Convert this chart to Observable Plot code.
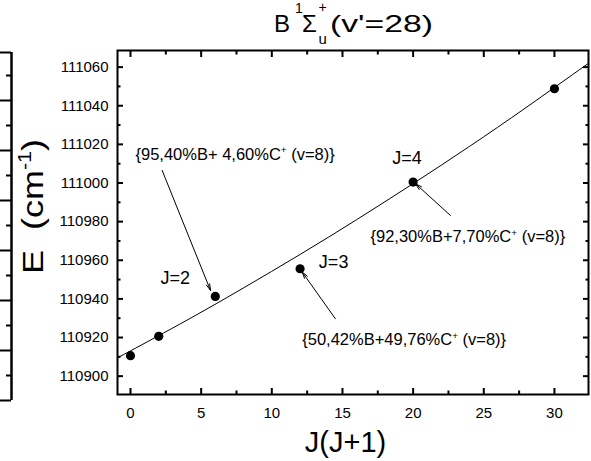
<!DOCTYPE html>
<html><head><meta charset="utf-8">
<script src="https://cdn.jsdelivr.net/npm/d3@7"></script>
<script src="https://cdn.jsdelivr.net/npm/@observablehq/plot@0.6"></script>
<style>
html,body{margin:0;padding:0;background:#fff;}
#wrap{position:relative;width:591px;height:461px;overflow:hidden;font-family:"Liberation Sans",Arial,sans-serif;}
#wrap svg{position:absolute;left:0;top:0;background:transparent;overflow:visible;}
svg text, svg tspan{white-space:pre;}
</style></head><body><div id="wrap"></div>
<script>
// measured points
const pointsX = [0, 2, 6, 12, 20, 30];
const pointsE = [110910.6, 110920.6, 110941.3, 110955.6, 111000.5, 111048.8];
// fitted curve
const fitX = [-0.92, 0, 4, 8, 12, 16, 20, 24, 28, 32.41];
const fitE = [110909.5, 110913.1, 110929.0, 110945.7, 110963.0, 110981.0, 110999.7, 111019.0, 111039.1, 111062.0];
// axes
const xDomain = [-0.92, 32.41];
const yDomain = [110890.5, 111068.6];
const xMajor = [0, 5, 10, 15, 20, 25, 30];
const xMinor = [2.5, 7.5, 12.5, 17.5, 22.5, 27.5];
const yMajor = [110900, 110920, 110940, 110960, 110980, 111000, 111020, 111040, 111060];
const yMinor = [110910, 110930, 110950, 110970, 110990, 111010, 111030, 111050];
// labels
const jTexts = ["J=2", "J=3", "J=4"];
const jX = [2.12, 13.33, 18.52];
const jE = [110947.5, 110956.1, 111010.0];
const noteTexts = ["{95,40%B+ 4,60%C^{+} (v=8)}", "{92,30%B+7,70%C^{+} (v=8)}", "{50,42%B+49,76%C^{+} (v=8)}"];
const noteX = [0.35, 16.98, 12.15];
const noteE = [111012.05, 110969.4, 110915.9];
const arrowFromX = [2.24, 22.64, 14.5];
const arrowFromE = [111006.5, 110983.2, 110929.7];
const arrowToX = [5.66, 20.17, 12.15];
const arrowToE = [110944.4, 110999.6, 110953.9];
const xTitle = "J(J+1)";
const yTitle = "E  (cm^{-1})";
// neighbouring (cropped) panel on the left
const sideDomain = [0, 13.92];
const sideMajor = [2, 4, 6, 8, 10, 12];
const sideMinor = [1, 3, 5, 7, 9, 11, 13];

const points = pointsX.map((x, i) => ({x, e: pointsE[i]}));
const fit = fitX.map((x, i) => ({x, e: fitE[i]}));
const jLabels = jTexts.map((t, i) => ({t, x: jX[i], e: jE[i]}));
const notes = noteTexts.map((t, i) => ({t, x: noteX[i], e: noteE[i]}));
const arrows = arrowFromX.map((x, i) => ({x1: x, y1: arrowFromE[i], x2: arrowToX[i], y2: arrowToE[i]}));

const FONT = "Liberation Sans, Arial, sans-serif";
const tickOpts = (anchor, size) => {
  const o = {anchor, tickSize: size, fill: "none", label: null, strokeWidth: 2, stroke: "black"};
  if (anchor === "bottom") o.dy = -size;
  if (anchor === "top") o.dy = size;
  if (anchor === "left") o.dx = size;
  if (anchor === "right") o.dx = -size;
  return o;
};

const main = Plot.plot({
  width: 591, height: 461,
  marginLeft: 117, marginRight: 3, marginTop: 50, marginBottom: 67,
  x: {domain: xDomain},
  y: {domain: yDomain},
  style: {fontFamily: FONT, fontSize: "15px", color: "black", background: "transparent"},
  marks: [
    Plot.line(fit, {x: "x", y: "e", curve: "natural", stroke: "black", strokeWidth: 1}),
    Plot.dot(points, {x: "x", y: "e", r: 4.6, fill: "black"}),
    Plot.arrow(arrows, {x1: "x1", y1: "y1", x2: "x2", y2: "y2", stroke: "black", strokeWidth: 1, headLength: 10, headAngle: 30}),
    Plot.text(jLabels, {x: "x", y: "e", text: "t", textAnchor: "start", lineAnchor: "bottom", fontSize: 18, fill: "black"}),
    Plot.text(notes, {x: "x", y: "e", text: "t", textAnchor: "start", lineAnchor: "bottom", fontSize: 16.5, fill: "black"}),
    Plot.text([xTitle], {text: d => d, frameAnchor: "bottom", dx: -7.5, dy: 57.7, lineAnchor: "bottom", fontSize: 29, fill: "black"}),
    Plot.axisX(xMajor, tickOpts("bottom", 6)),
    Plot.axisX(xMinor, tickOpts("bottom", 3.5)),
    Plot.axisX(xMajor, tickOpts("top", 6)),
    Plot.axisX(xMinor, tickOpts("top", 3.5)),
    Plot.axisY(yMajor, tickOpts("left", 6)),
    Plot.axisY(yMinor, tickOpts("left", 3.5)),
    Plot.axisY(yMajor, tickOpts("right", 6)),
    Plot.axisY(yMinor, tickOpts("right", 3.5)),
    Plot.axisX(xMajor, {anchor: "bottom", tickSize: 0, tickPadding: 12.7, label: null, fontSize: 15, fill: "black"}),
    Plot.axisY(yMajor, {anchor: "left", tickSize: 0, tickPadding: 9, label: null, fontSize: 15, fill: "black", tickFormat: d3.format("d")}),
    Plot.frame({stroke: "black", strokeWidth: 2})
  ]
});

const side = Plot.plot({
  width: 14, height: 461,
  marginLeft: 0, marginRight: 3, marginTop: 52, marginBottom: 61,
  x: {domain: [0, 1], axis: null},
  y: {domain: sideDomain, axis: null},
  style: {background: "transparent", color: "black"},
  marks: [
    Plot.ruleX([1], {stroke: "black", strokeWidth: 2.5}),
    Plot.ruleY(sideDomain, {stroke: "black", strokeWidth: 2}),
    Plot.axisY(sideMajor, tickOpts("right", 12)),
    Plot.axisY(sideMinor, tickOpts("right", 6))
  ]
});

const wrap = document.getElementById("wrap");
wrap.appendChild(main);
wrap.appendChild(side);

const NS = "http://www.w3.org/2000/svg";
function rich(el, fs) {
  const s = el.textContent;
  el.textContent = "";
  const parts = s.split(/(\^\{[^}]*\}|_\{[^}]*\})/);
  let cur = 0;
  for (const p of parts) {
    if (!p) continue;
    let txt = p, off = 0, size = null;
    if (p.startsWith("^{")) { txt = p.slice(2, -1); off = -0.4 * fs; size = 0.6 * fs; }
    else if (p.startsWith("_{")) { txt = p.slice(2, -1); off = 0.25 * fs; size = 0.6 * fs; }
    const t = document.createElementNS(NS, "tspan");
    if (size) t.setAttribute("font-size", size);
    if (off - cur) t.setAttribute("dy", off - cur);
    cur = off;
    t.textContent = txt;
    el.appendChild(t);
  }
}
main.querySelectorAll("text").forEach(el => {
  if (/\^\{|_\{/.test(el.textContent)) rich(el, parseFloat(getComputedStyle(el).fontSize));
});

const svg = d3.select(main);
// y-axis title
const yt = svg.append("text")
  .attr("transform", "translate(43.3,206.5) rotate(-90) scale(1.2,1)")
  .attr("text-anchor", "middle")
  .attr("font-family", FONT).attr("font-size", 30).attr("fill", "black")
  .text(yTitle);
rich(yt.node(), 30);

// chart title: B ¹Σ⁺ᵤ (v'=28)
const tt = svg.append("text").attr("y", 31.7).attr("text-anchor", "start")
  .attr("font-family", FONT).attr("font-size", 24).attr("fill", "black");
tt.append("tspan").attr("x", 274).text("B");
tt.append("tspan").attr("x", 295).attr("font-size", 14).attr("dy", -18.4).text("1");
tt.append("tspan").attr("x", 302).attr("dy", 18.4).text("Σ");
tt.append("tspan").attr("x", 318.5).attr("font-size", 14).attr("dy", -19.4).text("+");
tt.append("tspan").attr("x", 318.5).attr("font-size", 15).attr("dy", 32).text("u");
tt.append("tspan").attr("x", 330).attr("dy", -12.6)
  .attr("textLength", 103).attr("lengthAdjust", "spacingAndGlyphs").text("(v'=28)");
</script></body></html>
